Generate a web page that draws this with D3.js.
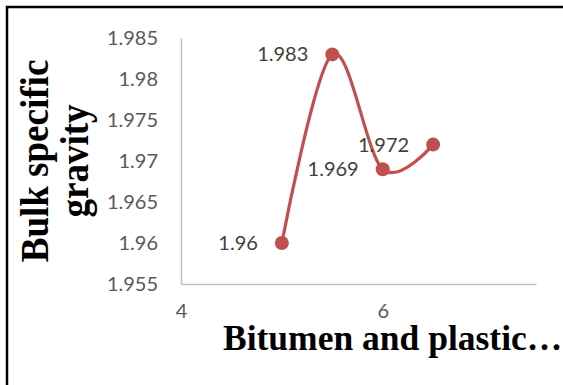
<!DOCTYPE html>
<html>
<head>
<meta charset="utf-8">
<script src="https://cdn.jsdelivr.net/npm/d3@7"></script>
<style>
  html, body { margin: 0; padding: 0; background: #fff; }
  svg { display: block; }
  .tick text { font-family: Lato, "Open Sans", sans-serif; font-size: 20px; fill: #595959; }
</style>
</head>
<body>
<div id="chart"></div>
<script>
// data
const xValues = [5, 5.5, 6, 6.5];
const yValues = [1.96, 1.983, 1.969, 1.972];
const pointLabels = ['1.96', '1.983', '1.969', '1.972'];
const yTicks = [1.955, 1.96, 1.965, 1.97, 1.975, 1.98, 1.985];
const yTickLabels = ['1.955', '1.96', '1.965', '1.97', '1.975', '1.98', '1.985'];
const xTicks = [4, 6];
const xTitle = 'Bitumen and plastic…';
const yTitle = ['Bulk specific', 'gravity'];

const width = 563, height = 385;
const red = '#C0504D';

const svg = d3.select('#chart').append('svg')
  .attr('width', width)
  .attr('height', height);

// outer frame (runs off right and bottom)
svg.append('rect')
  .attr('x', 7).attr('y', 7)
  .attr('width', 600).attr('height', 420)
  .attr('fill', 'none')
  .attr('stroke', '#000')
  .attr('stroke-width', 2.5);

const x = d3.scaleLinear().domain([4, 7.52]).range([181, 536]);
const y = d3.scaleLinear().domain([1.955, 1.985]).range([284, 38]);

// axes
const gy = svg.append('g')
  .attr('transform', 'translate(181,0)')
  .call(d3.axisLeft(y)
    .tickValues(yTicks)
    .tickFormat((d, i) => yTickLabels[i])
    .tickSize(0)
    .tickSizeOuter(0)
    .tickPadding(23));
gy.select('.domain').attr('stroke', '#BFBFBF').attr('stroke-width', 1.5);

const gx = svg.append('g')
  .attr('transform', 'translate(0,284)')
  .call(d3.axisBottom(x)
    .tickValues(xTicks)
    .tickFormat(d3.format('d'))
    .tickSize(0)
    .tickSizeOuter(0)
    .tickPadding(20));
gx.select('.domain').attr('stroke', '#BFBFBF').attr('stroke-width', 1.5);

// smoothed line
const pts = xValues.map((v, i) => [v, yValues[i]]);
const line = d3.line()
  .x(d => x(d[0]))
  .y(d => y(d[1]))
  .curve(d3.curveCardinal.tension(0));

svg.append('path')
  .datum(pts)
  .attr('d', line)
  .attr('fill', 'none')
  .attr('stroke', red)
  .attr('stroke-width', 3.2);

svg.append('g').selectAll('circle')
  .data(pts)
  .join('circle')
  .attr('cx', d => x(d[0]))
  .attr('cy', d => y(d[1]))
  .attr('r', 7)
  .attr('fill', red);

// data labels, left of markers
svg.append('g').selectAll('text')
  .data(pts)
  .join('text')
  .attr('x', d => x(d[0]) - 24)
  .attr('y', d => y(d[1]) + 2)
  .attr('text-anchor', 'end')
  .attr('dominant-baseline', 'middle')
  .style('font-family', 'Lato, "Open Sans", sans-serif')
  .style('font-size', '20px')
  .attr('fill', '#404040')
  .text((d, i) => pointLabels[i]);

// axis titles
svg.append('text')
  .attr('x', 223)
  .attr('y', 350)
  .style('font-family', '"Liberation Serif", "Times New Roman", serif')
  .style('font-weight', 'bold')
  .style('font-size', '35.5px')
  .attr('fill', '#000')
  .text(xTitle);

// y title: a bit taller than wide, as in the original text box
const yt = svg.append('text')
  .attr('transform', 'translate(0,161) rotate(-90) scale(0.95,1)')
  .attr('text-anchor', 'middle')
  .style('font-family', '"Liberation Serif", "Times New Roman", serif')
  .style('font-weight', 'bold')
  .style('font-size', '39px')
  .attr('fill', '#000');
yt.selectAll('tspan')
  .data(yTitle)
  .join('tspan')
  .attr('x', 0)
  .attr('y', (d, i) => 48 + i * 40)
  .text(d => d);
</script>
</body>
</html>
